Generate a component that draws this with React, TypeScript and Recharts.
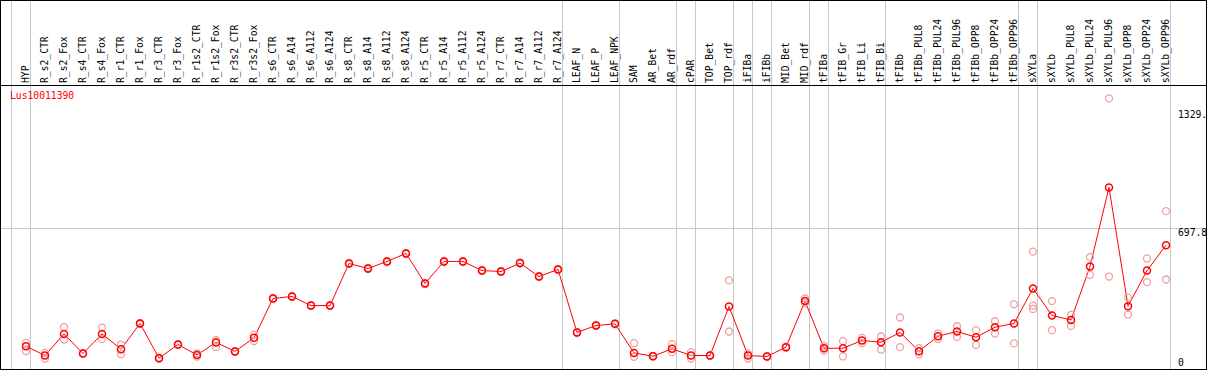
import React from 'react';
import { ComposedChart, Line, XAxis, YAxis, ReferenceLine } from 'recharts';

const categories = [
  'HYP', 'R_s2_CTR', 'R_s2_Fox', 'R_s4_CTR', 'R_s4_Fox', 'R_r1_CTR', 'R_r1_Fox', 'R_r3_CTR', 'R_r3_Fox',
  'R_r1s2_CTR', 'R_r1s2_Fox', 'R_r3s2_CTR', 'R_r3s2_Fox', 'R_s6_CTR', 'R_s6_A14', 'R_s6_A112', 'R_s6_A124',
  'R_s8_CTR', 'R_s8_A14', 'R_s8_A112', 'R_s8_A124', 'R_r5_CTR', 'R_r5_A14', 'R_r5_A112', 'R_r5_A124',
  'R_r7_CTR', 'R_r7_A14', 'R_r7_A112', 'R_r7_A124', 'LEAF_N', 'LEAF_P', 'LEAF_NPK', 'SAM', 'AR_Bet', 'AR_rdf',
  'cPAR', 'TOP_Bet', 'TOP_rdf', 'iFIBa', 'iFIBb', 'MID_Bet', 'MID_rdf', 'tFIBa', 'tFIB_Gr', 'tFIB_Li', 'tFIB_Bi',
  'tFIBb', 'tFIBb_PUL8', 'tFIBb_PUL24', 'tFIBb_PUL96', 'tFIBb_OPP8', 'tFIBb_OPP24', 'tFIBb_OPP96',
  'sXYLa', 'sXYLb', 'sXYLb_PUL8', 'sXYLb_PUL24', 'sXYLb_PUL96', 'sXYLb_OPP8', 'sXYLb_OPP24', 'sXYLb_OPP96',
];

const meanValues = [
  66, 16, 132, 27, 132, 50, 188, 2, 75,
  19, 86, 38, 111, 322, 333, 284, 284,
  510, 483, 521, 564, 403, 521, 521, 472,
  467, 512, 440, 478, 140, 177, 186, 30, 12, 52,
  16, 16, 279, 16, 11, 61, 308, 55, 55, 97, 87,
  140, 39, 120, 145, 114, 168, 188,
  376, 231, 207, 494, 918, 281, 472, 608,
];

const replicateA = [
  84, 30, 168, 29, 166, 75, 191, 4, 77,
  28, 98, 40, 128, 325, 336, 287, 287,
  513, 486, 524, 567, 406, 524, 524, 475,
  470, 515, 443, 481, 143, 180, 189, 82, 14, 77,
  34, 18, 419, 27, 13, 63, 322, 67, 93, 111, 118,
  220, 55, 134, 173, 152, 200, 291,
  574, 308, 234, 544, 1396, 327, 537, 791,
];

const replicateB = [
  40, 0, 102, 25, 104, 23, 185, 0, 73,
  10, 62, 36, 94, 319, 330, 281, 281,
  507, 480, 518, 561, 400, 518, 518, 469,
  464, 509, 437, 475, 137, 174, 183, 9, 10, 34,
  0, 14, 145, 0, 9, 59, 298, 43, 11, 83, 48,
  61, 23, 104, 116, 73, 134, 81,
  284, 152, 175, 449, 440, 236, 410, 424,
];

const replicateC: (number | null)[] = categories.map((c) => (c === 'sXYLa' ? 266 : null));

const groupLastMembers = [
  'HYP', 'R_r7_A124', 'LEAF_NPK', 'AR_rdf', 'cPAR', 'TOP_rdf', 'iFIBa', 'iFIBb', 'MID_rdf',
  'tFIBa', 'tFIB_Bi', 'tFIBb_OPP96', 'sXYLa', 'sXYLb_OPP96',
];

const yTicks = [0, 697.8, 1329];
const yTickLabels = ['0', '697.8', '1329.'];
const referenceValue = 697.8;
const geneLabel = 'Lus10011390';

const FONT = '"DejaVu Sans Mono", "Liberation Mono", monospace';
const FONT_SIZE = 9.7;
const GRID = '#c8c8c8';
const RED = '#ff0000';
const REP_COLOR = '#f0a0a0';

const X_MIN = -25 / 19;
const X_MAX = 1180 / 19;
const Y_MIN = -10.5 * (697.8 / 130);
const Y_MAX = 358.5 * (697.8 / 130);
const BOUNDARY_OFFSET = 4.5 / 19;

const data = categories.map((name, i) => ({
  idx: i,
  name,
  mean: meanValues[i],
  repA: replicateA[i],
  repB: replicateB[i],
  repC: replicateC[i],
}));

const boundaries = [-1, ...groupLastMembers.map((n) => categories.indexOf(n))].map(
  (e) => e + BOUNDARY_OFFSET
);

const renderXTick = (props: any) => {
  const { x, payload } = props;
  return (
    <text
      key={`xt${payload.value}`}
      transform={`translate(${x + 2.5},83) rotate(-90)`}
      fontFamily={FONT}
      fontSize={FONT_SIZE}
      fill="#000"
      textAnchor="start"
    >
      {categories[payload.value]}
    </text>
  );
};

const renderYTick = (props: any) => {
  const { y, payload } = props;
  const i = yTicks.indexOf(payload.value);
  return (
    <text
      key={`yt${payload.value}`}
      x={1178}
      y={y + 7.5}
      fontFamily={FONT}
      fontSize={FONT_SIZE}
      fill="#000"
      textAnchor="start"
    >
      {yTickLabels[i]}
    </text>
  );
};

export default function App() {
  return (
    <div style={{ position: 'absolute', left: 0, top: 0, width: 1209, height: 370, background: '#fff' }}>
      <ComposedChart
        width={1209}
        height={370}
        data={data}
        margin={{ top: 0, right: 3, bottom: 1, left: 1 }}
      >
        <XAxis
          dataKey="idx"
          type="number"
          orientation="top"
          mirror
          domain={[X_MIN, X_MAX]}
          allowDataOverflow
          ticks={categories.map((_, i) => i)}
          interval={0}
          tick={renderXTick}
          tickLine={false}
          axisLine={false}
        />
        <YAxis
          type="number"
          orientation="right"
          mirror
          domain={[Y_MIN, Y_MAX]}
          allowDataOverflow
          ticks={yTicks}
          interval={0}
          tick={renderYTick}
          tickLine={false}
          axisLine={false}
        />
        {boundaries.map((b, i) => (
          <ReferenceLine key={`b${i}`} x={b} stroke={GRID} strokeWidth={1} />
        ))}
        <ReferenceLine y={referenceValue} stroke={GRID} strokeWidth={1} />
        <Line
          dataKey="repA"
          stroke="none"
          isAnimationActive={false}
          dot={{ r: 3.5, stroke: REP_COLOR, strokeWidth: 1.3, fill: 'none' }}
          activeDot={false}
        />
        <Line
          dataKey="repB"
          stroke="none"
          isAnimationActive={false}
          dot={{ r: 3.5, stroke: REP_COLOR, strokeWidth: 1.3, fill: 'none' }}
          activeDot={false}
        />
        <Line
          dataKey="repC"
          stroke="none"
          isAnimationActive={false}
          dot={{ r: 3.5, stroke: REP_COLOR, strokeWidth: 1.3, fill: 'none' }}
          activeDot={false}
        />
        <Line
          dataKey="mean"
          stroke={RED}
          strokeWidth={1}
          isAnimationActive={false}
          dot={{ r: 3.5, stroke: RED, strokeWidth: 1.5, fill: 'none' }}
          activeDot={false}
        />
      </ComposedChart>
      <svg
        width={1209}
        height={370}
        style={{ position: 'absolute', left: 0, top: 0, pointerEvents: 'none' }}
      >
        <rect x={0.5} y={0.5} width={1206} height={369} fill="none" stroke="#000" strokeWidth={1} />
        <line x1={0} x2={1207} y1={85.5} y2={85.5} stroke="#000" strokeWidth={1} />
        <text x={10} y={99} fontFamily={FONT} fontSize={FONT_SIZE} fill={RED}>
          {geneLabel}
        </text>
      </svg>
    </div>
  );
}
